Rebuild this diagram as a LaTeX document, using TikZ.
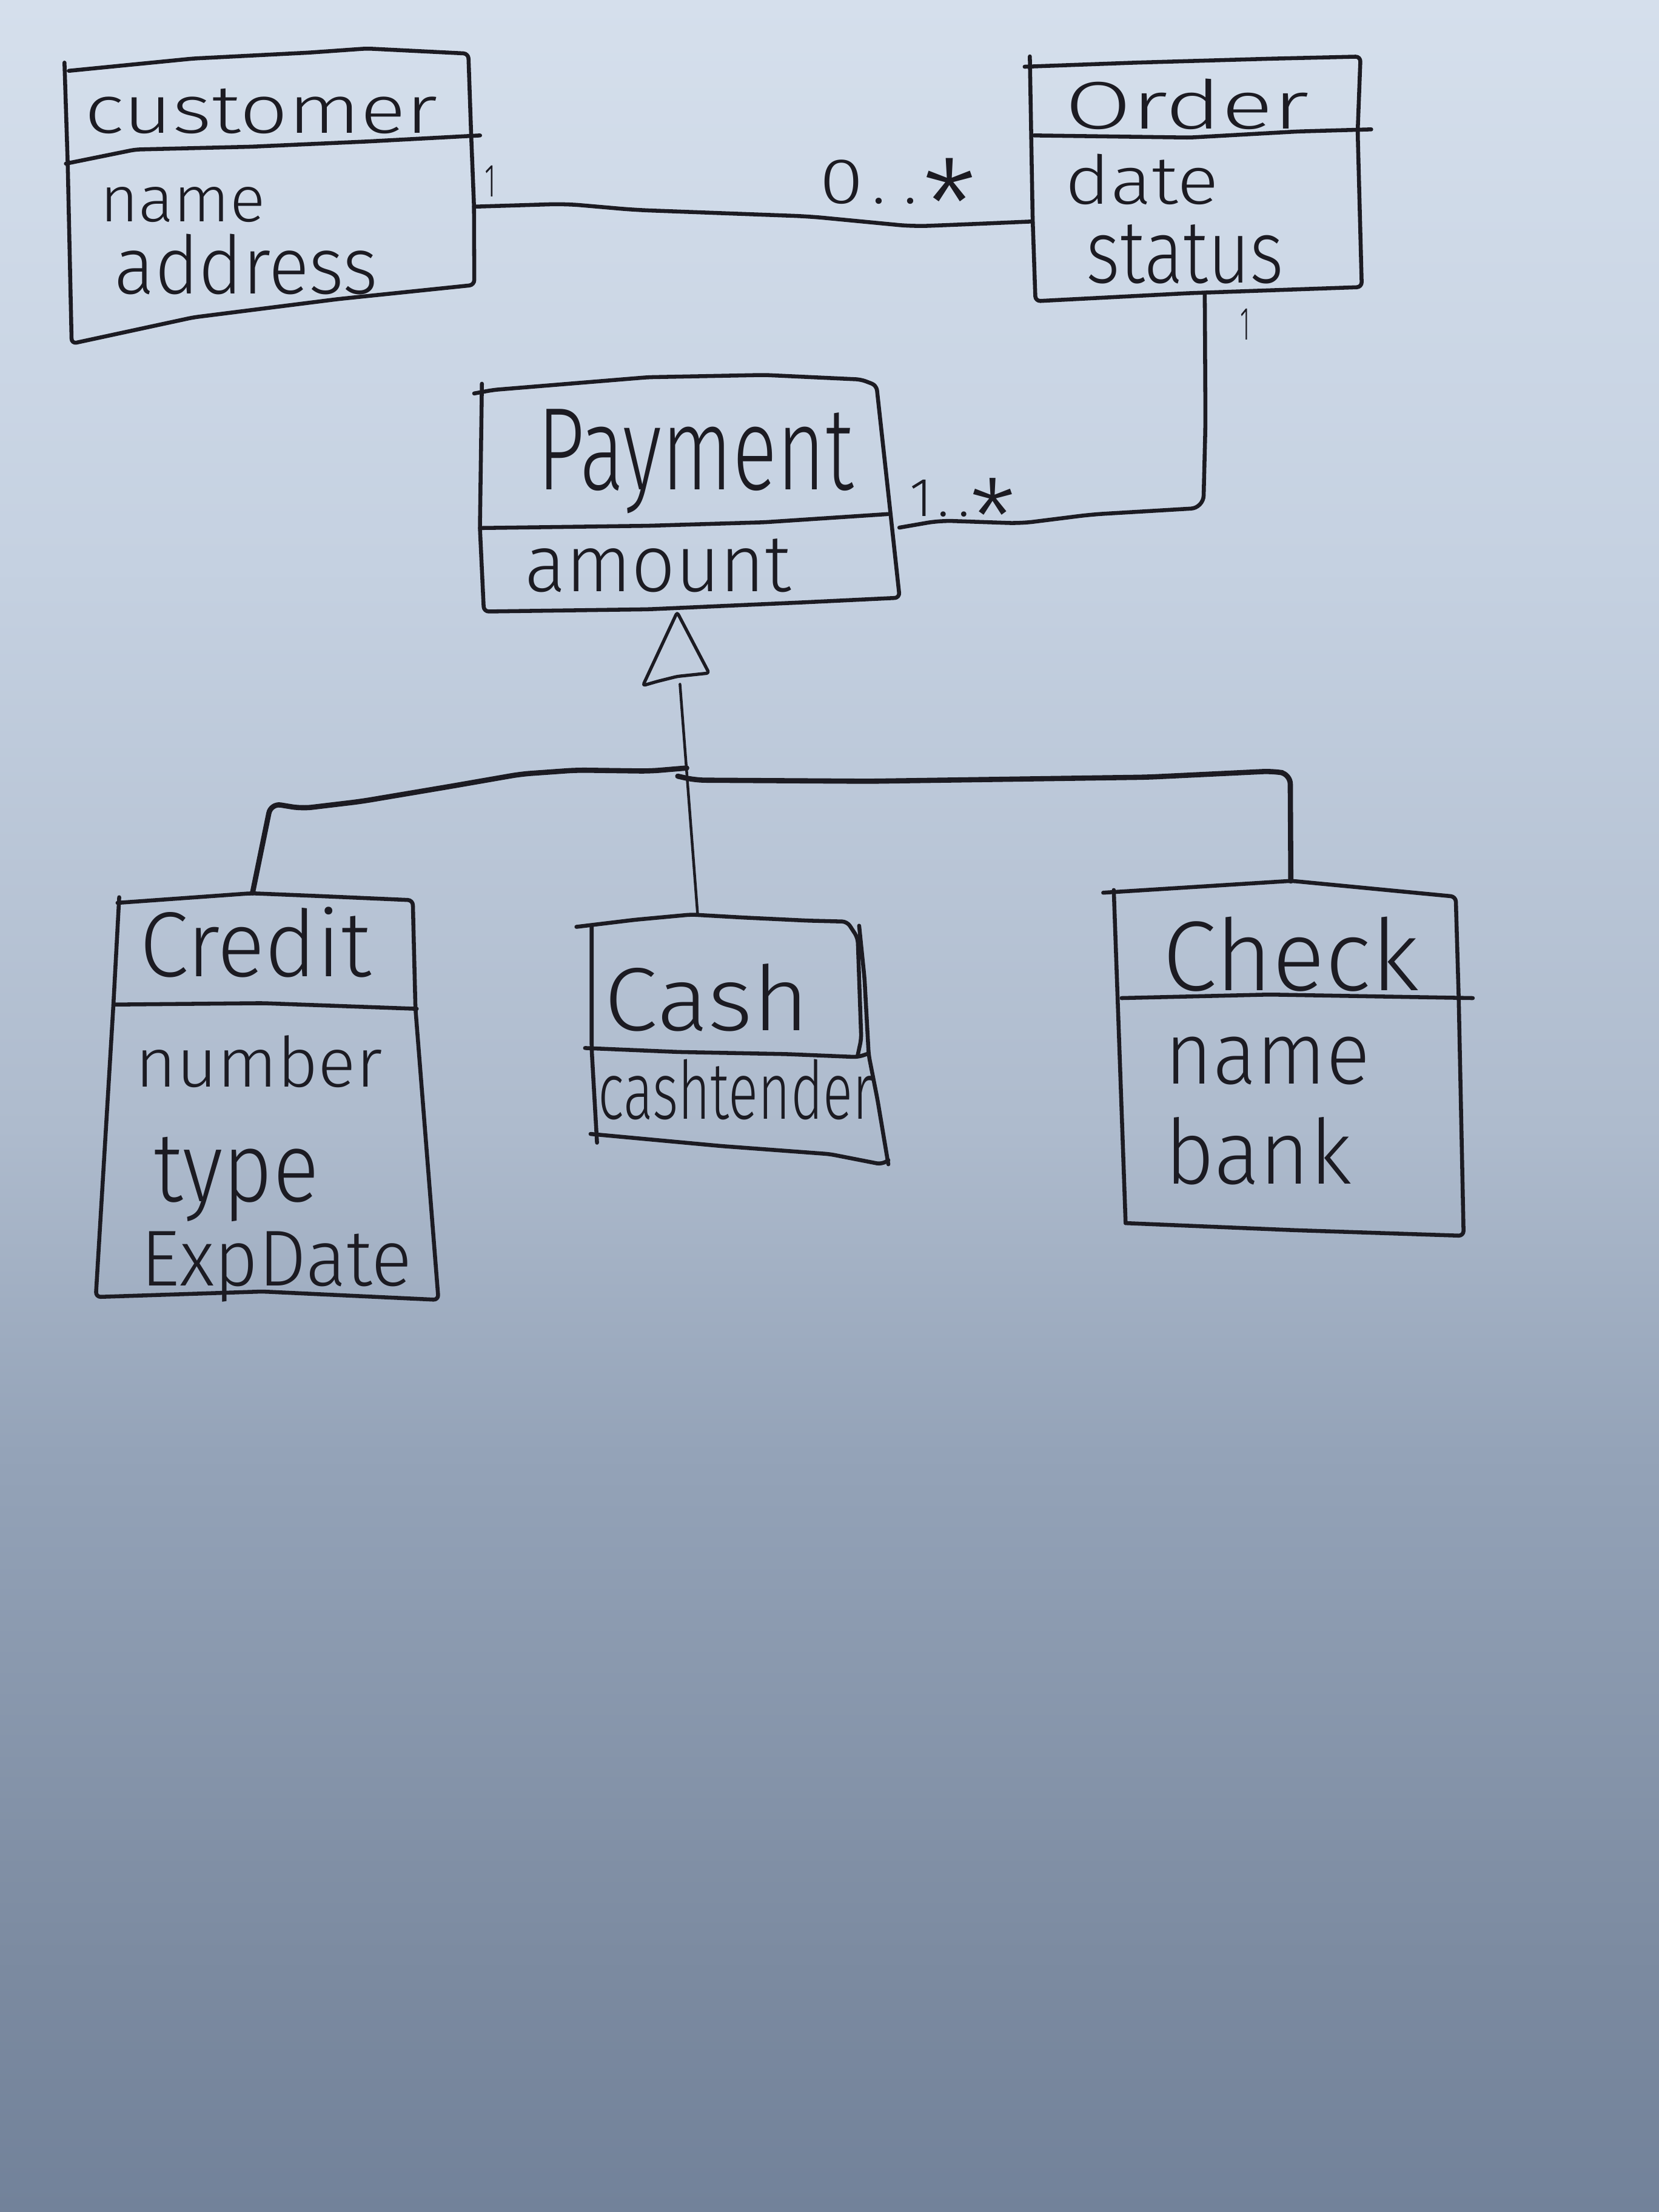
\documentclass[tikz,border=0pt]{standalone}
\usepackage{fontspec}
\setmainfont{Fira Sans Light}
\usepackage{graphicx}
\definecolor{ink}{HTML}{1C1B22}
\definecolor{paperA}{HTML}{72829A}
\definecolor{paperB}{HTML}{7B8AA0}
\definecolor{paperC}{HTML}{94A3B8}
\definecolor{paperD}{HTML}{AEBBCD}
\definecolor{paperE}{HTML}{C5D1E1}
\definecolor{paperF}{HTML}{D5DFEC}
% the filled region maps onto 25bp..75bp of the shading
\pgfdeclareverticalshading{paper}{100bp}{%
  color(0bp)=(paperA); color(25bp)=(paperA); color(30.35bp)=(paperB);
  color(42.15bp)=(paperC); color(49.5bp)=(paperD); color(62.25bp)=(paperE);
  color(75bp)=(paperF); color(100bp)=(paperF)}
% one unit of the drawing grid
\newlength\dpx
\setlength\dpx{0.02cm}
% handwritten-size label: width, total height, text
\newcommand\hw[3]{\resizebox*{#1\dpx}{#2\dpx}{#3}}
% multiplicity with a large asterisk: lower bound, then the three gaps
\newcommand\mult[4]{\fontsize{26}{26}\selectfont #1\hspace{#2}.\hspace{#3}.\hspace{#4}%
  \raisebox{-18.7pt}{\fontsize{50}{50}\selectfont *}}
\tikzset{
  pen/.style={draw=ink, line width=1.6pt, line cap=round, line join=round, rounded corners=2pt},
  finepen/.style={pen, line width=1.1pt},
  boldpen/.style={pen, line width=2.1pt, rounded corners=4pt},
  txt/.style={inner sep=0pt, outer sep=0pt, text=ink}
}
\begin{document}
\begin{tikzpicture}[x=0.02cm, y=-0.02cm]
\useasboundingbox (0,0) rectangle (1176,1568);
\shade[shading=paper] (0,0) rectangle (1176,1568);

% ---------- customer ----------
\draw[pen] (45.7,44.4) -- (48,116) -- (50.8,243.6) -- (137,225) -- (239.7,212)
  -- (336.2,202) -- (336,146) -- (334,96) -- (332,38) -- (260,34.4)
  -- (219,37.3) -- (137,41.5) -- (48.8,50.2);
\draw[pen] (46.7,116) -- (96,106) -- (178,104) -- (260.2,100.3) -- (340.3,96);
\coordinate (cust-e) at (336,146.5);
\node[txt] (cust-title) at (185,79) {\hw{250}{32}{customer}};
\node[txt] (cust-a1) at (129.5,145) {\hw{117}{25}{name}};
\node[txt] (cust-a2) at (174.5,187.5) {\hw{187}{43}{address}};

% ---------- Order ----------
\draw[pen] (730,40) -- (732,155) -- (734,213.5) -- (843.4,207.8) -- (965.3,203.5)
  -- (962.4,93.2) -- (964.4,40.1) -- (901,41.6) -- (805,44.4) -- (726.3,47.3);
\draw[pen] (733,96) -- (843.4,97.5) -- (920,93.2) -- (972,91.7);
\coordinate (ord-w) at (731.5,157);
\coordinate (ord-s) at (854,207.5);
\node[txt] (ord-title) at (841.5,74) {\hw{173}{36}{Order}};
\node[txt] (ord-a1) at (809.5,127) {\hw{109}{36}{date}};
\node[txt] (ord-a2) at (840,180) {\hw{140}{42}{status}};

% ---------- Payment ----------
\draw[pen] (341.6,272) -- (340.2,374.3) -- (343,433.5) -- (459.5,431.9) -- (569.2,427)
  -- (637.7,423.7) -- (629.5,348) -- (621.3,273.2) -- (610.3,269) -- (541.8,265.8)
  -- (459.5,267.4) -- (349.8,276.4) -- (336.1,278.9);
\draw[pen] (340.2,374.3) -- (459.5,372.7) -- (541.8,370.2) -- (629.5,364.4);
\coordinate (pay-e) at (637.5,374);
\coordinate (pay-s) at (480,434);
\node[txt] (pay-title) at (493,327) {\hw{224}{74}{Payment}};
\node[txt] (pay-a1) at (466.5,401) {\hw{189}{38}{amount}};

% ---------- Credit ----------
\draw[pen] (84.5,636) -- (80.4,712) -- (67.9,919.4) -- (186,915.5) -- (310.8,921.4)
  -- (294.5,715) -- (292.6,638.1) -- (224.4,635.1) -- (178.3,633.2) -- (83.3,640);
\draw[pen] (80.4,712.1) -- (186,711.1) -- (295.4,715.1);
\coordinate (cred-n) at (179,633);
\node[txt] (cred-title) at (181,668) {\hw{164}{50}{Credit}};
\node[txt] (cred-a1) at (183.5,752.5) {\hw{175}{37}{number}};
\node[txt] (cred-a2) at (167.5,836) {\hw{117}{60}{type}};
\node[txt] (cred-a3) at (196,898) {\hw{192}{50}{ExpDate}};

% ---------- Cash ----------
\draw[pen] (408.6,657) -- (450,652) -- (490,648.3) -- (526.8,650.4) -- (572.9,652.6)
  -- (600.5,653.3) -- (608,664.8) -- (610.5,736.4) -- (608,748);
\draw[pen] (419.4,656) -- (419.4,743.6) -- (423.2,810);
\draw[pen] (609,656.2) -- (612.8,693.4) -- (615.8,747.9) -- (622,779.4) -- (629.7,825.3);
\draw[pen] (418.6,803.8) -- (511.5,812.4) -- (588.2,818.1) -- (625,825.3) -- (629.7,822.4);
\draw[pen] (414.7,742.9) -- (480.8,745.7) -- (557.5,747.2) -- (608.2,749.3) -- (615,747);
\coordinate (cash-n) at (494.5,648);
\node[txt] (cash-title) at (501,707) {\hw{145}{48}{Cash}};
\node[txt] (cash-a1) at (521.5,772.5) {\hw{195}{43}{cashtender}};

% ---------- Check ----------
\draw[pen] (782,632.8) -- (915.4,624.4) -- (1031.9,635.6) -- (1034,707) -- (1037.5,876)
  -- (917,872) -- (797.9,867);
\draw[pen] (789.5,630.9) -- (797.9,867);
\draw[pen] (795,707.5) -- (900,705) -- (1044,707.5);
\coordinate (chk-n) at (915,624.5);
\node[txt] (chk-title) at (915,676.5) {\hw{182}{53}{Check}};
\node[txt] (chk-a1) at (898.5,752) {\hw{145}{34}{name}};
\node[txt] (chk-a2) at (892,816) {\hw{132}{48}{bank}};

% ---------- association customer -- Order ----------
\draw[pen, rounded corners=6pt] (cust-e) -- (400.7,144.5) -- (450,148.8) -- (573.4,153.4)
  -- (647.4,160.5) -- (690,158.8) -- (ord-w);
\node[txt] (m-cust) at (347.5,128.5) {\hw{8}{22}{1}};
\node[txt, anchor=base west] (m-ord) at (581,144)
  {\mult{\scalebox{1.25}[1]{0}}{3.4pt}{7.3pt}{2.2pt}};

% ---------- association Order -- Payment ----------
\draw[pen, rounded corners=5pt] (ord-s) -- (854.5,300) -- (853,360) -- (773.8,364.7)
  -- (723.6,371) -- (666.3,369) -- (pay-e);
\node[txt] (m-ord2) at (882.5,230) {\hw{7}{22}{1}};
\node[txt, anchor=base west, scale=0.85] (m-pay) at (645,366)
  {\mult{1}{2.5pt}{4.5pt}{0pt}};

% ---------- generalization ----------
\draw[pen, line width=1.3pt, rounded corners=1pt] (pay-s) -- (502.6,477.1) -- (480,479.5)
  -- (466,483) -- (455.7,486) -- cycle;
\coordinate (tri-b) at (482,485);
\coordinate (gen-l) at (486.8,544.4);
\coordinate (gen-r) at (480.4,550.2);
\draw[finepen] (tri-b) -- (cash-n);
\draw[boldpen] (gen-l) -- (460.6,546.6) -- (408.8,545.9) -- (369.4,548.7) -- (320,557.3)
  -- (255.9,568.1) -- (214,573.1) -- (192,569.5) -- (cred-n);
\draw[boldpen] (gen-r) -- (492.7,553) -- (616,553.8) -- (813.4,550.9) -- (902.2,546.6)
  -- (914.6,548.7) -- (chk-n);
\end{tikzpicture}
\end{document}
